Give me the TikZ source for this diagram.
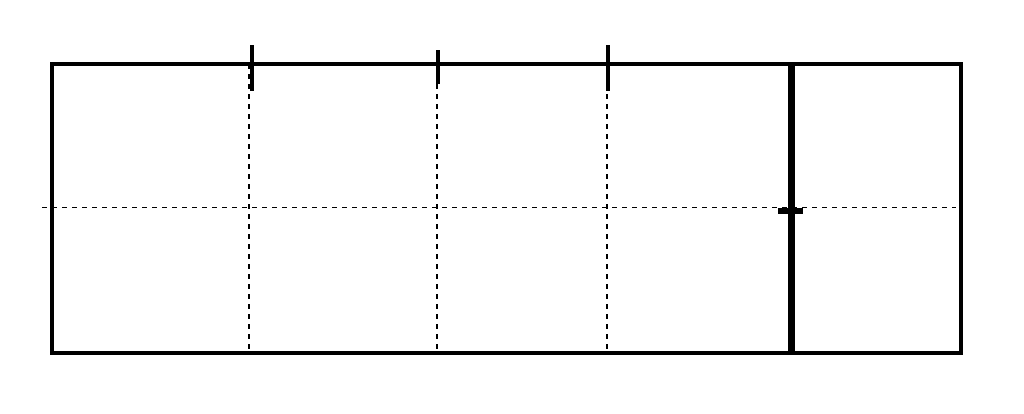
\documentclass[tikz,border=0pt]{standalone}
\begin{document}
\begin{tikzpicture}[x=1pt,y=-1pt,
  frame/.style={line width=3.5pt,line cap=rect},
  grid/.style={line width=1.1pt,dash pattern=on 5pt off 5pt},
  tick/.style={line width=4.5pt},
  divider/.style={line width=7pt}]
\useasboundingbox (0,0) rectangle (1024,413);
\coordinate (tl) at (52,64);
\coordinate (br) at (961,353);
% grid lines
\draw[grid] (42,207.5) -- (956,207.5);
\draw[grid] (249,64) -- (249,353);
\draw[grid] (437,64) -- (437,353);
\draw[grid] (607,64) -- (607,353);
% frame
\draw[frame] (tl) rectangle (br);
% thick divider
\draw[divider] (791,64) -- (791,353);
\draw[line width=6pt] (778,211) -- (803,211);
% top ticks
\draw[tick] (252,45) -- (252,91);
\draw[tick] (438,50) -- (438,84);
\draw[tick] (608,45) -- (608,91);
\end{tikzpicture}
\end{document}
